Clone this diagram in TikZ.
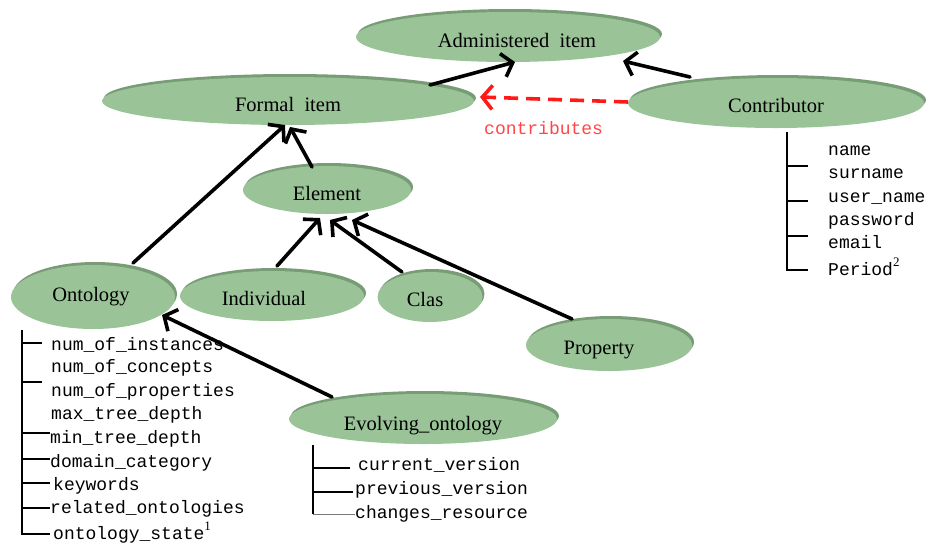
\documentclass[tikz,border=0pt]{standalone}
\usepackage{fontspec}
\setmainfont{Liberation Serif}
\setmonofont{Liberation Mono}
\usetikzlibrary{shapes.geometric,shadows,arrows.meta,calc}
\definecolor{ovfill}{RGB}{154,196,152}
\definecolor{ovrim}{RGB}{120,156,118}
\definecolor{linkred}{RGB}{255,25,25}
\definecolor{labred}{RGB}{255,70,70}
\definecolor{thingray}{RGB}{120,120,120}
\newcommand{\supmark}[1]{\raisebox{9pt}{\fontsize{13}{13}\selectfont\rmfamily #1}}
% lower a label inside its box while keeping the box size
\newcommand{\lowered}[2]{\raisebox{-#1}[\height][\depth]{#2}}
\begin{document}
\begin{tikzpicture}[x=1pt,y=-1pt,
  ov/.style={ellipse, fill=ovfill, draw=none, inner sep=0pt,
    font=\fontsize{20.5}{24}\selectfont,
    copy shadow={shadow xshift=2pt, shadow yshift=3pt, fill=ovrim, draw=none}},
  isa/.style={line width=3.6pt, line cap=round, -{Straight Barb[length=10pt,width=24pt]}},
  contr/.style={line width=3.6pt, draw=linkred, dash pattern=on 14pt off 8pt,
    -{Straight Barb[length=10pt,width=24pt]}},
  attr/.style={anchor=base west, inner sep=0pt, font=\ttfamily\fontsize{18}{20}\selectfont},
  tree/.style={line width=2pt},
  thintree/.style={line width=0.9pt, draw=thingray}
]
\useasboundingbox (0,0) rectangle (926,542);

% classes
\node[ov, minimum width=304pt, minimum height=50pt] (adm) at (508,37) {\lowered{3pt}{\hspace*{18pt}Administered~~item}};
\node[ov, minimum width=372pt, minimum height=48pt] (formal) at (288,101) {\lowered{3pt}{Formal~~item}};
\node[ov, minimum width=296pt, minimum height=50pt] (contrib) at (776,103) {\lowered{2pt}{Contributor}};
\node[ov, minimum width=168pt, minimum height=48pt] (element) at (327,190) {\lowered{3pt}{Element}};
\node[ov, minimum width=164pt, minimum height=64pt] (onto) at (93,297) {\lowered{0pt}{Ontology\hspace*{4pt}}};
\node[ov, minimum width=184pt, minimum height=50pt] (indiv) at (272,296) {\lowered{2pt}{Individual\hspace*{16pt}}};
\node[ov, minimum width=105pt, minimum height=50pt] (clas) at (430,297) {\lowered{2pt}{Clas\hspace*{10pt}}};
\node[ov, minimum width=166pt, minimum height=52pt] (prop) at (609,345) {\lowered{5pt}{Property\hspace*{20pt}}};
\node[ov, minimum width=268pt, minimum height=50pt] (evol) at (423,419) {\lowered{7pt}{Evolving\_ontology}};

% generalisation links
\draw[isa] ($(formal)+(142,-16)$) -- ($(adm)+(7,25)$);
\draw[isa] ($(contrib)+(-86,-26)$) -- ($(adm)+(115,24)$);
\draw[isa] ($(onto)+(40,-34)$) -- ($(formal)+(-3,24)$);
\draw[isa] ($(element)+(-15,-23)$) -- ($(formal)+(2,26)$);
\draw[isa] ($(indiv)+(5,-30)$) -- ($(element)+(-7,28)$);
\draw[isa] ($(clas)+(-28,-25)$) -- ($(element)+(3,30)$);
\draw[isa] ($(prop)+(-37,-26)$) -- ($(element)+(25,30)$);
\draw[isa] ($(evol)+(-91,-22)$) -- ($(onto)+(69,18)$);

% contributes relation
\draw[contr] ($(contrib)+(-148,-1)$) -- ($(formal)+(192,-4)$);
\node[attr, text=labred] (contlbl) at (484,134) {contributes};

% Ontology attributes
\node[attr] (o1) at (51,350) {num\_of\_instances};
\node[attr] (o2) at (51,372) {num\_of\_concepts};
\node[attr] (o3) at (51,396) {num\_of\_properties};
\node[attr] (o4) at (51,419) {max\_tree\_depth};
\node[attr] (o5) at (50,443) {min\_tree\_depth};
\node[attr] (o6) at (50,467) {domain\_category};
\node[attr] (o7) at (53,490) {keywords};
\node[attr] (o8) at (50,513) {related\_ontologies};
\node[attr] (o9) at (53,539) {ontology\_state\supmark{1}};
\coordinate (otop) at (22,330);
\coordinate (obot) at (22,534);
\draw[tree] (otop) -- (obot) -- ++(28,0);
\foreach \dy/\len in {13/20, 52/20, 103/28, 129/28, 153/28, 178/28}
  \draw[tree] ($(otop)+(0,\dy)$) -- ++(\len,0);

% Contributor attributes
\node[attr] (c1) at (828,155) {name};
\node[attr] (c2) at (828,178) {surname};
\node[attr] (c3) at (828,202) {user\_name};
\node[attr] (c4) at (828,225) {password};
\node[attr] (c5) at (828,248) {email};
\node[attr] (c6) at (828,275) {Period\supmark{2}};
\coordinate (ctop) at (787,132);
\coordinate (cbot) at (787,270);
\draw[tree] (ctop) -- (cbot) -- ++(21,0);
\foreach \dy in {34, 69, 104}
  \draw[tree] ($(ctop)+(0,\dy)$) -- ++(21,0);

% Evolving_ontology attributes
\node[attr] (e1) at (358,470) {current\_version};
\node[attr] (e2) at (355,494) {previous\_version};
\node[attr] (e3) at (355,518) {changes\_resource};
\coordinate (etop) at (313,445);
\coordinate (ebot) at (313,514);
\draw[tree] (etop) -- (ebot);
\draw[thintree] (ebot) -- ++(42,0);
\draw[tree] ($(etop)+(0,23)$) -- ++(37,0);
\draw[tree] ($(etop)+(0,47)$) -- ++(40,0);
\end{tikzpicture}
\end{document}
